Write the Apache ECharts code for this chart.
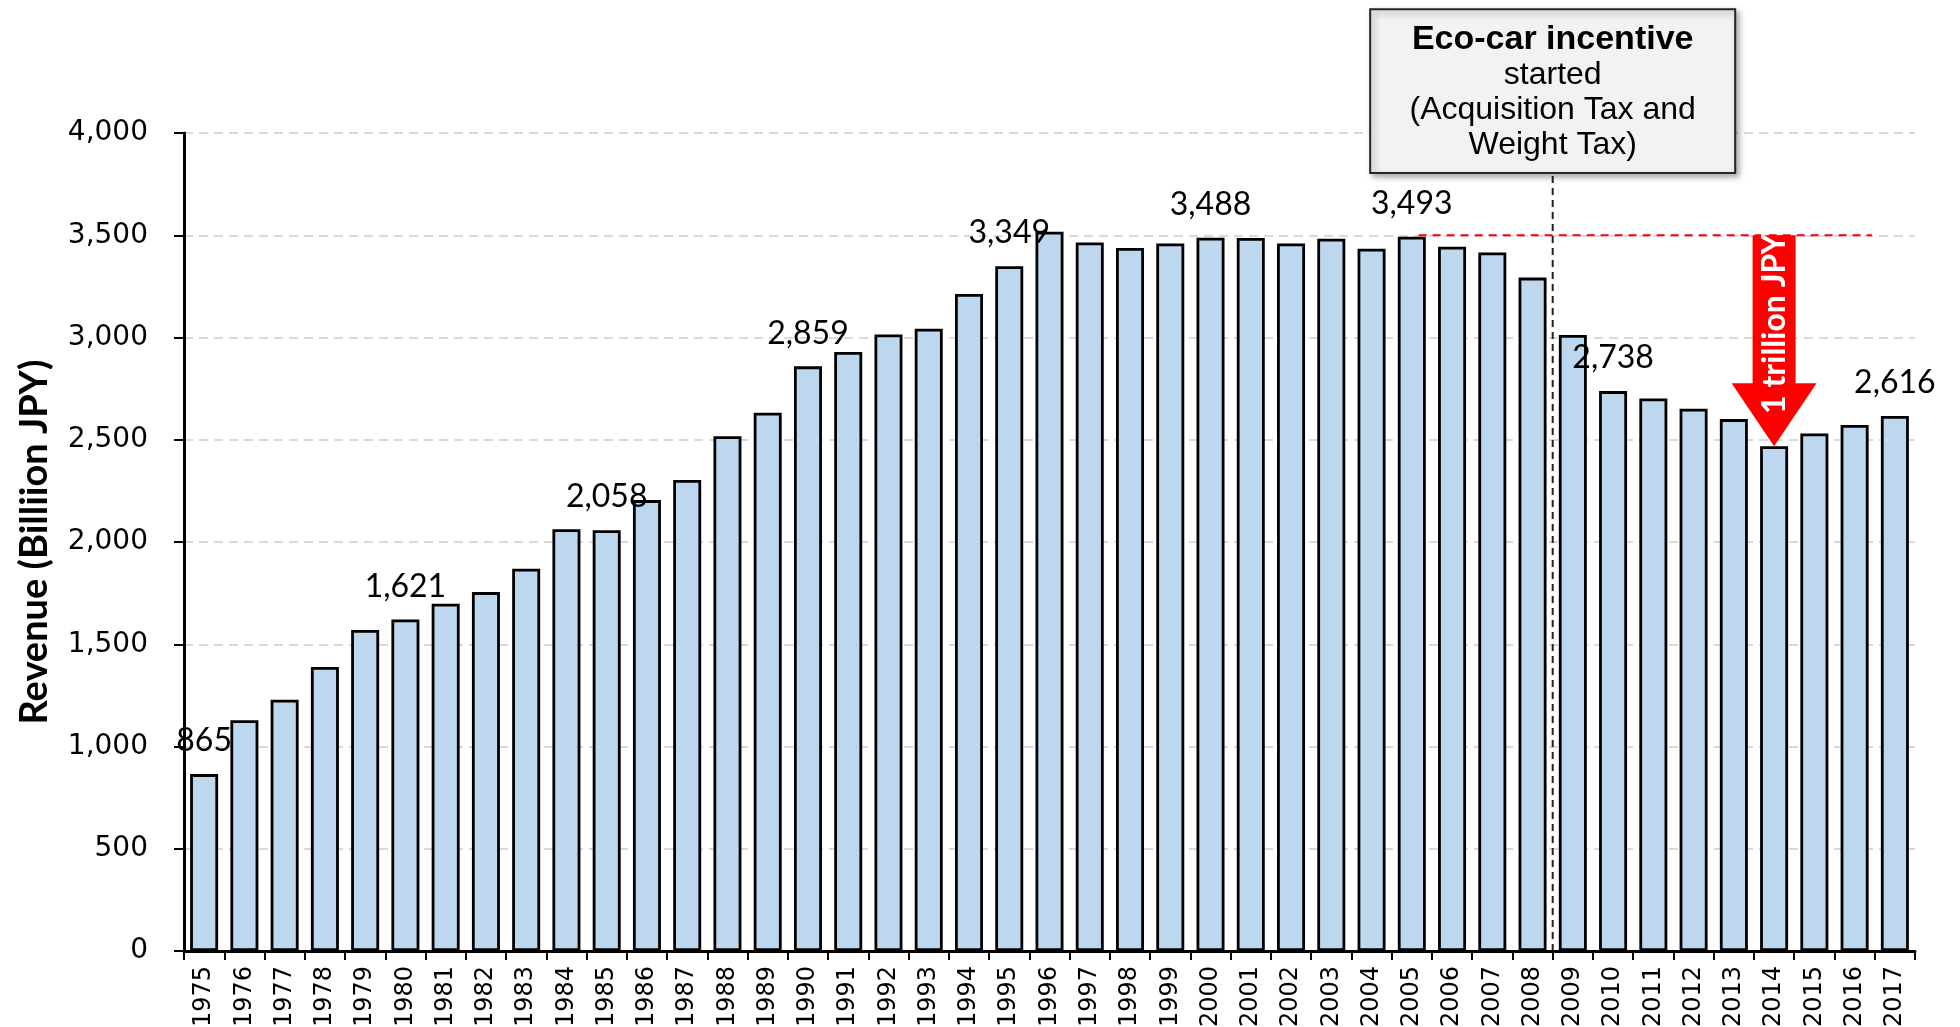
<!DOCTYPE html>
<html><head><meta charset="utf-8">
<script src="https://cdn.jsdelivr.net/npm/echarts@6/dist/echarts.min.js"></script>
<style>html,body{margin:0;padding:0;background:#fff}#c{width:1960px;height:1027px}</style>
</head><body><div id="c"></div>
<script>
// ---- data ----
const years = ['1975','1976','1977','1978','1979','1980','1981','1982','1983','1984',
  '1985','1986','1987','1988','1989','1990','1991','1992','1993','1994',
  '1995','1996','1997','1998','1999','2000','2001','2002','2003','2004',
  '2005','2006','2007','2008','2009','2010','2011','2012','2013','2014',
  '2015','2016','2017'];
const revenue = [865,1128,1229,1389,1570,1621,1698,1755,1869,2062,
  2058,2205,2303,2517,2632,2859,2929,3015,3043,3213,
  3349,3517,3465,3438,3460,3488,3487,3460,3483,3434,
  3493,3444,3416,3293,3012,2738,2702,2652,2601,2468,
  2531,2572,2616];
const labeledYears = ['1975','1980','1985','1990','1995','2000','2005','2010','2017'];
const yTickValues = [0,500,1000,1500,2000,2500,3000,3500,4000];
const yAxisTitle = 'Revenue (Billiion JPY)';
const boxLines = ['Eco-car incentive','started','(Acquisition Tax and','Weight Tax)'];
const peakLevel = 3500;          // previous peak level (red dashed line)
const dropYear = '2014';
const dropLabel = '1 trillion JPY';
const incentiveStartYear = '2009';

// ---- layout helpers (positions along the category index scale) ----
const incentiveX = years.indexOf(incentiveStartYear) - 0.5;
const peakLineFrom = years.indexOf('2005') + 0.17;
const peakLineTo = years.length - 1 - 0.57;
const dropX = years.indexOf(dropYear);
const boxTopV = 4605, boxBottomV = 3804;

const fmt = v => String(v).replace(/\B(?=(\d{3})+(?!\d))/g, ',');

const chart = echarts.init(document.getElementById('c'));
chart.setOption({
  animation: false,
  grid: {left: 184, right: 45, top: 133, bottom: 76, containLabel: false, outerBoundsMode: 'none'},
  xAxis: [{
    type: 'category', data: years,
    axisLine: {lineStyle: {color: '#000', width: 3}},
    axisTick: {show: true, length: 9, lineStyle: {color: '#000', width: 2}},
    axisLabel: {rotate: 90, fontFamily: 'DejaVu Sans', fontSize: 24, color: '#000', margin: 15}
  }, {
    type: 'value', min: -0.5, max: years.length - 0.5, show: false
  }],
  yAxis: {
    type: 'value', min: yTickValues[0], max: yTickValues[yTickValues.length - 1], interval: 500,
    axisLine: {show: true, onZero: false, lineStyle: {color: '#000', width: 3}},
    axisTick: {show: true, length: 10, lineStyle: {color: '#000', width: 2}},
    axisLabel: {fontFamily: 'DejaVu Sans', fontSize: 28, color: '#000', margin: 36, formatter: fmt},
    splitLine: {lineStyle: {color: '#d9d9d9', width: 2, type: [9, 6]}},
    name: yAxisTitle, nameLocation: 'middle', nameGap: 130,
    nameTextStyle: {fontFamily: 'Lato', fontWeight: 'bold', fontSize: 38, color: '#000'}
  },
  series: [
    {
      type: 'bar', barWidth: 28,
      data: revenue.map((v, i) => ({value: v, label: {show: labeledYears.includes(years[i])}})),
      itemStyle: {color: '#BDD7EE', borderColor: '#000', borderWidth: 2.8},
      label: {position: 'top', distance: 17, fontFamily: 'Lato', fontSize: 32, color: '#000',
        formatter: p => fmt(p.value)},
      z: 2
    },
    {
      type: 'line', xAxisIndex: 1, symbol: 'none', silent: true,
      data: [[incentiveX, 0], [incentiveX, boxBottomV]],
      lineStyle: {color: '#222', width: 2, type: [7, 5]}, z: 3
    },
    {
      type: 'line', xAxisIndex: 1, symbol: 'none', silent: true,
      data: [[peakLineFrom, peakLevel], [peakLineTo, peakLevel]],
      lineStyle: {color: '#FF0000', width: 2, type: [8, 6]}, z: 3
    },
    {
      type: 'custom', xAxisIndex: 1, clip: false, z: 5, silent: true,
      data: [[dropX, peakLevel, revenue[dropX]]],
      renderItem: (params, api) => {
        const pTop = api.coord([api.value(0), api.value(1)]);
        const pTip = api.coord([api.value(0), api.value(2)]);
        const sh = 21.5, hh = 42.5, hl = 63;
        const cx = pTop[0], hy = pTip[1] - hl;
        return {type: 'group', children: [
          {type: 'polygon', shape: {points: [
            [cx - sh, pTop[1]], [cx + sh, pTop[1]], [cx + sh, hy], [cx + hh, hy],
            [cx, pTip[1]], [cx - hh, hy], [cx - sh, hy]]},
            style: {fill: '#FF0000'}},
          {type: 'text', x: cx + 1, y: (pTop[1] + pTip[1]) / 2 - 17, rotation: Math.PI / 2,
            style: {text: dropLabel, fill: '#fff', fontFamily: 'Lato', fontWeight: 'bold',
              fontSize: 32, align: 'center', verticalAlign: 'middle'}}
        ]};
      }
    },
    {
      type: 'custom', xAxisIndex: 1, clip: false, z: 6, silent: true,
      data: [[incentiveX, boxTopV, boxBottomV]],
      renderItem: (params, api) => {
        const a = api.coord([api.value(0), api.value(1)]);
        const b = api.coord([api.value(0), api.value(2)]);
        const w = 365;
        const text = '{b|' + boxLines[0] + '}\n' + boxLines.slice(1).map(s => '{r|' + s + '}').join('\n');
        return {type: 'group', children: [
          {type: 'rect', shape: {x: a[0] - w / 2, y: a[1], width: w, height: b[1] - a[1]},
            style: {fill: '#F2F2F2', stroke: '#262626', lineWidth: 2,
              shadowBlur: 6, shadowOffsetX: 3, shadowOffsetY: 3, shadowColor: 'rgba(0,0,0,0.35)'}},
          {type: 'text', x: a[0], y: (a[1] + b[1]) / 2 + 1,
            style: {text: text, align: 'center', verticalAlign: 'middle', fill: '#000',
              rich: {
                b: {fontFamily: 'Liberation Sans', fontWeight: 'bold', fontSize: 34, lineHeight: 35, fill: '#000', align: 'center'},
                r: {fontFamily: 'Liberation Sans', fontSize: 32, lineHeight: 35, fill: '#000', align: 'center'}
              }}}
        ]};
      }
    }
  ]
});
</script>
</body></html>
